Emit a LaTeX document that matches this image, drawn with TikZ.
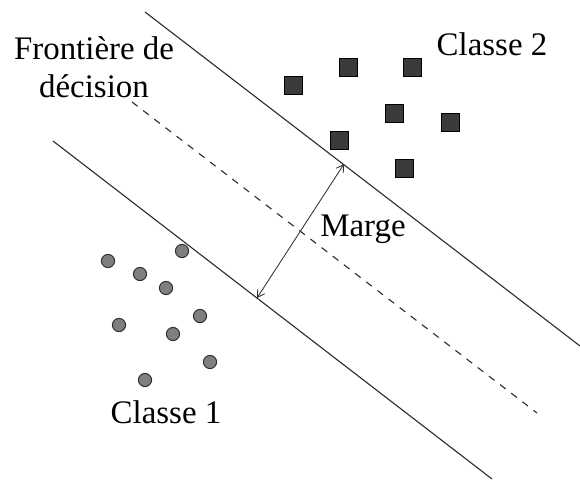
\documentclass[tikz,border=0pt]{standalone}
\usepackage{fontspec}
\setmainfont{Liberation Serif}
\usetikzlibrary{arrows.meta}
\definecolor{traco}{HTML}{2E2E2E}
\definecolor{cinza}{HTML}{7F7F7F}
\definecolor{escuro}{HTML}{3A3A3A}

\begin{document}
\begin{tikzpicture}[x=0.025cm, y=-0.025cm, >={Straight Barb[length=5pt,width=6pt]},
  font=\fontsize{23.4}{27}\selectfont,
  linha/.style={draw=traco, line width=0.8pt},
  bola/.style={circle, draw=traco, fill=cinza, line width=0.7pt, minimum size=0.33cm, inner sep=0pt},
  quad/.style={rectangle, draw=black, fill=escuro, line width=0.7pt, minimum size=0.45cm, inner sep=0pt},
  rot/.style={inner sep=0pt, anchor=base}]
  \useasboundingbox (0,0) rectangle (580,480);
  % margens e fronteira
  \coordinate (a1) at (145,12);
  \coordinate (a2) at (580,346);
  \coordinate (d1) at (132,102);
  \coordinate (d2) at (537,413);
  \coordinate (b1) at (53,141);
  \coordinate (b2) at (492,479);
  \draw[linha] (a1) -- (a2);
  \draw[linha, dash pattern=on 5pt off 5pt] (d1) -- (d2);
  \draw[linha] (b1) -- (b2);
  \coordinate (m1) at (344,164);
  \coordinate (m2) at (257,298);
  \draw[linha, line width=0.6pt, <->] (m1) -- (m2);
  % classe 1
  \foreach \x/\y [count=\i] in {108/261, 140/274, 182/251, 166/288, 119/325,
                                173/334, 200/316, 210/362, 145/380}
    \node[bola] (c\i) at (\x,\y) {};
  % classe 2
  \foreach \x/\y [count=\i] in {293/85, 348/67, 412/67, 394/113, 450/122,
                                339/140, 404/168}
    \node[quad] (s\i) at (\x,\y) {};
  \node[align=center, inner sep=0pt] (fr) at (94,67) {Frontière de\\décision};
  \node[rot] (cl2) at (492,55) {Classe 2};
  \node[rot] (mg) at (363,236) {Marge};
  \node[rot] (cl1) at (166,423) {Classe 1};
\end{tikzpicture}
\end{document}
